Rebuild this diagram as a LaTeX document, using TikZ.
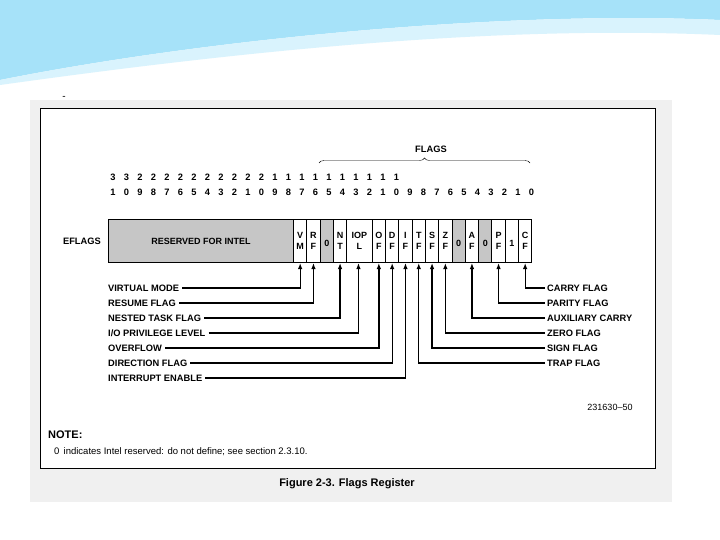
\documentclass[tikz,border=0pt]{standalone}
\usepackage{fontspec}
\setmainfont{Liberation Sans}
\usetikzlibrary{decorations.pathreplacing,arrows.meta}
\begin{document}
\begin{tikzpicture}[x=1pt,y=-1pt,
  lbl/.style={font=\bfseries\fontsize{9.3}{10}\selectfont,inner sep=0pt},
  cell/.style={draw,line width=1pt,minimum width=13.3pt,minimum height=43pt,inner sep=0pt,font=\bfseries\fontsize{9}{10.5}\selectfont,align=center},
  gcell/.style={cell,fill=gray!45},
  ptr/.style={line width=1.3pt,-{Latex[length=6pt,width=4.5pt]}}]
\useasboundingbox (0,0) rectangle (720,540);
\fill[white] (0,0) rectangle (720,540);
% top decoration
\fill[cyan!35] (0,0) -- (720,0) -- (720,20) .. controls (500,10) and (200,40) .. (0,80) -- cycle;
\fill[cyan!15] (0,80) .. controls (200,40) and (500,10) .. (720,20) -- (720,35) .. controls (500,25) and (250,50) .. (0,85) -- cycle;
\fill[gray!12] (30,100) rectangle (672,502);
\fill[white] (40,108) rectangle (655,468);
\draw[line width=0.8pt] (40,108) rectangle (655,468);
\node at (64,98) {-};
% bits
\foreach \i in {0,...,31}{
  \pgfmathtruncatemacro{\b}{31-\i}
  \pgfmathtruncatemacro{\t}{int(\b/10)}
  \pgfmathtruncatemacro{\u}{mod(\b,10)}
  \ifnum\b>9 \node[lbl] (t\b) at ({113+\i*13.5},177) {\t};\fi
  \node[lbl] (u\b) at ({113+\i*13.5},192) {\u};
}
% register
\node[gcell,minimum width=185pt,anchor=north west] (res) at (108,219) {RESERVED FOR INTEL};
\node[lbl,anchor=east] (ef) at (101,241) {EFLAGS};
\node[cell,anchor=north west] (vm) at (293,219) {V\\M};
\node[cell,anchor=north west] (rf) at (306.3,219) {R\\F};
\node[gcell,anchor=north west] (z1) at (319.6,219) {\\0};
\node[cell,anchor=north west] (nt) at (332.9,219) {N\\T};
\node[cell,anchor=north west,minimum width=25.5pt] (io) at (346.2,219) {IOP\\L};
\node[cell,anchor=north west] (of) at (371.7,219) {O\\F};
\node[cell,anchor=north west] (df) at (385,219) {D\\F};
\node[cell,anchor=north west] (if) at (398.3,219) {I\\F};
\node[cell,anchor=north west] (tf) at (411.6,219) {T\\F};
\node[cell,anchor=north west] (sf) at (424.9,219) {S\\F};
\node[cell,anchor=north west] (zf) at (438.2,219) {Z\\F};
\node[gcell,anchor=north west] (z2) at (451.5,219) {\\0};
\node[cell,anchor=north west] (af) at (464.8,219) {A\\F};
\node[gcell,anchor=north west] (z3) at (478.1,219) {\\0};
\node[cell,anchor=north west] (pf) at (491.4,219) {P\\F};
\node[cell,anchor=north west] (one) at (504.7,219) {\\1};
\node[cell,anchor=north west] (cf) at (518,219) {C\\F};
% brace
\draw[decorate,decoration={brace,amplitude=5pt}] (319,163) -- (530,163);
\node[lbl] (fl) at (431,149) {FLAGS};
% left labels
\node[lbl,anchor=west] (l1) at (108,288) {VIRTUAL MODE};
\node[lbl,anchor=west] (l2) at (108,303) {RESUME FLAG};
\node[lbl,anchor=west] (l3) at (108,318) {NESTED TASK FLAG};
\node[lbl,anchor=west] (l4) at (108,333) {I/O PRIVILEGE LEVEL};
\node[lbl,anchor=west] (l5) at (108,348) {OVERFLOW};
\node[lbl,anchor=west] (l6) at (108,363) {DIRECTION FLAG};
\node[lbl,anchor=west] (l7) at (108,378) {INTERRUPT ENABLE};
\draw[ptr] ([xshift=3pt]l1.east) -| (vm.south);
\draw[ptr] ([xshift=3pt]l2.east) -| (rf.south);
\draw[ptr] ([xshift=3pt]l3.east) -| (nt.south);
\draw[ptr] ([xshift=3pt]l4.east) -| ([xshift=-1pt]io.south);
\draw[ptr] ([xshift=3pt]l5.east) -| (of.south);
\draw[ptr] ([xshift=3pt]l6.east) -| (df.south);
\draw[ptr] ([xshift=3pt]l7.east) -| (if.south);
% right labels
\node[lbl,anchor=west] (r1) at (547,288) {CARRY FLAG};
\node[lbl,anchor=west] (r2) at (547,303) {PARITY FLAG};
\node[lbl,anchor=west] (r3) at (547,318) {AUXILIARY CARRY};
\node[lbl,anchor=west] (r4) at (547,333) {ZERO FLAG};
\node[lbl,anchor=west] (r5) at (547,348) {SIGN FLAG};
\node[lbl,anchor=west] (r6) at (547,363) {TRAP FLAG};
\draw[ptr] ([xshift=-2pt]r1.west) -| (cf.south);
\draw[ptr] ([xshift=-2pt]r2.west) -| (pf.south);
\draw[ptr] ([xshift=-2pt]r3.west) -| (af.south);
\draw[ptr] ([xshift=-2pt]r4.west) -| (zf.south);
\draw[ptr] ([xshift=-2pt]r5.west) -| (sf.south);
\draw[ptr] ([xshift=-2pt]r6.west) -| (tf.south);
\node[font=\fontsize{9}{10}\selectfont,inner sep=0pt] (id) at (610,407) {231630--50};
\node[font=\bfseries\fontsize{11}{12}\selectfont,anchor=west,inner sep=0pt] (note) at (48,435) {NOTE:};
\node[font=\fontsize{9.5}{11}\selectfont,anchor=west,inner sep=0pt] (nt2) at (54,452) {0\, indicates Intel reserved: do not define; see section 2.3.10.};
\node[font=\bfseries\fontsize{11}{12}\selectfont,inner sep=0pt] (cap) at (347,484) {Figure 2-3. Flags Register};
\end{tikzpicture}
\end{document}
